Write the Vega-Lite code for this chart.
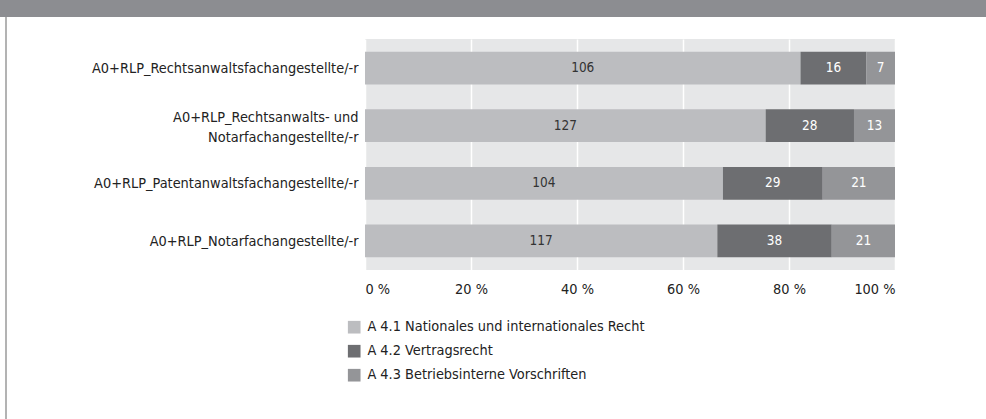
{
  "$schema": "https://vega.github.io/schema/vega-lite/v6.json",
  "padding": 0,
  "background": "white",
  "spacing": 0,
  "bounds": "flush",
  "config": {
    "view": {"stroke": null},
    "font": "Liberation Sans Narrow, DejaVu Sans Condensed, sans-serif"
  },
  "datasets": {
    "bars": [
      {"cat": "A0+RLP_Rechtsanwaltsfachangestellte/-r", "series": "A 4.1 Nationales und internationales Recht", "order": 1, "value": 106},
      {"cat": "A0+RLP_Rechtsanwaltsfachangestellte/-r", "series": "A 4.2 Vertragsrecht", "order": 2, "value": 16},
      {"cat": "A0+RLP_Rechtsanwaltsfachangestellte/-r", "series": "A 4.3 Betriebsinterne Vorschriften", "order": 3, "value": 7},
      {"cat": "A0+RLP_Rechtsanwalts- und Notarfachangestellte/-r", "series": "A 4.1 Nationales und internationales Recht", "order": 1, "value": 127},
      {"cat": "A0+RLP_Rechtsanwalts- und Notarfachangestellte/-r", "series": "A 4.2 Vertragsrecht", "order": 2, "value": 28},
      {"cat": "A0+RLP_Rechtsanwalts- und Notarfachangestellte/-r", "series": "A 4.3 Betriebsinterne Vorschriften", "order": 3, "value": 13},
      {"cat": "A0+RLP_Patentanwaltsfachangestellte/-r", "series": "A 4.1 Nationales und internationales Recht", "order": 1, "value": 104},
      {"cat": "A0+RLP_Patentanwaltsfachangestellte/-r", "series": "A 4.2 Vertragsrecht", "order": 2, "value": 29},
      {"cat": "A0+RLP_Patentanwaltsfachangestellte/-r", "series": "A 4.3 Betriebsinterne Vorschriften", "order": 3, "value": 21},
      {"cat": "A0+RLP_Notarfachangestellte/-r", "series": "A 4.1 Nationales und internationales Recht", "order": 1, "value": 117},
      {"cat": "A0+RLP_Notarfachangestellte/-r", "series": "A 4.2 Vertragsrecht", "order": 2, "value": 38},
      {"cat": "A0+RLP_Notarfachangestellte/-r", "series": "A 4.3 Betriebsinterne Vorschriften", "order": 3, "value": 21}
    ],
    "blank": [{}]
  },
  "vconcat": [
    {
      "width": 986,
      "height": 17,
      "view": {"fill": "#8c8d91", "stroke": null},
      "data": {"name": "blank"},
      "mark": {"type": "text"},
      "encoding": {"text": {"value": ""}}
    },
    {
      "bounds": "flush",
      "spacing": 365,
      "hconcat": [
        {
          "bounds": "flush",
          "spacing": 0,
          "hconcat": [
            {
              "width": 5,
              "height": 1,
              "view": {"stroke": null},
              "data": {"name": "blank"},
              "mark": {"type": "text"},
              "encoding": {"text": {"value": ""}}
            },
            {
              "width": 2,
              "height": 402,
              "view": {"fill": "#b3b3b3", "stroke": null},
              "data": {"name": "blank"},
              "mark": {"type": "text"},
              "encoding": {"text": {"value": ""}}
            }
          ]
        },
        {
          "bounds": "flush",
          "spacing": 21,
          "vconcat": [
            {
              "width": 1,
              "height": 1,
              "view": {"stroke": null},
              "data": {"name": "blank"},
              "mark": {"type": "text"},
              "encoding": {"text": {"value": ""}}
            },
            {
              "width": 530,
              "height": 231,
              "view": {"fill": "#e6e7e8", "stroke": null},
              "data": {"name": "bars"},
              "transform": [
                {"stack": "value", "groupby": ["cat"], "sort": [{"field": "order"}], "offset": "normalize", "as": ["x0", "x1"]},
                {"calculate": "(datum.x0 + datum.x1) / 2", "as": "xm"}
              ],
              "encoding": {
                "y": {
                  "field": "cat",
                  "type": "nominal",
                  "sort": null,
                  "scale": {"paddingInner": 0.43, "paddingOuter": 0.22},
                  "axis": {
                    "title": null,
                    "domain": false,
                    "ticks": false,
                    "labelPadding": 7,
                    "labelFontSize": 14.4,
                    "labelColor": "#222222",
                    "labelLimit": 400,
                    "labelLineHeight": 20,
                    "labelOffset": {
                      "condition": {"test": "datum.value == 'A0+RLP_Rechtsanwalts- und Notarfachangestellte/-r'", "value": -8},
                      "value": 1
                    },
                    "labelExpr": "datum.label == 'A0+RLP_Rechtsanwalts- und Notarfachangestellte/-r' ? ['A0+RLP_Rechtsanwalts- und', 'Notarfachangestellte/-r'] : datum.label"
                  }
                }
              },
              "layer": [
                {
                  "mark": {"type": "bar"},
                  "encoding": {
                    "x": {
                      "field": "x0",
                      "type": "quantitative",
                      "scale": {"domain": [0, 1], "nice": false},
                      "axis": {
                        "title": null,
                        "domain": false,
                        "ticks": false,
                        "values": [0, 0.2, 0.4, 0.6, 0.8, 1],
                        "labelExpr": "round(datum.value * 100) + ' %'",
                        "labelFontSize": 14.4,
                        "labelColor": "#222222",
                        "labelPadding": 12,
                        "grid": true,
                        "gridColor": "#ffffff",
                        "gridWidth": 1.5,
                        "gridOpacity": 1
                      }
                    },
                    "x2": {"field": "x1"},
                    "color": {
                      "field": "series",
                      "type": "nominal",
                      "sort": null,
                      "scale": {
                        "domain": ["A 4.1 Nationales und internationales Recht", "A 4.2 Vertragsrecht", "A 4.3 Betriebsinterne Vorschriften"],
                        "range": ["#bcbdc0", "#6d6e71", "#949598"]
                      },
                      "legend": {
                        "title": null,
                        "orient": "none",
                        "legendX": 347,
                        "legendY": 320,
                        "direction": "vertical",
                        "symbolType": "square",
                        "symbolSize": 160,
                        "symbolStrokeWidth": 0,
                        "symbolOpacity": 1,
                        "labelFontSize": 14.4,
                        "labelColor": "#222222",
                        "labelOffset": 6,
                        "labelLimit": 500,
                        "rowPadding": 9
                      }
                    }
                  }
                },
                {
                  "mark": {"type": "text", "fontSize": 13.5, "baseline": "middle", "align": "center"},
                  "encoding": {
                    "x": {"field": "xm", "type": "quantitative"},
                    "text": {"field": "value", "type": "quantitative"},
                    "color": {
                      "condition": {"test": "datum.order == 1", "value": "#333333"},
                      "value": "#ffffff"
                    }
                  }
                }
              ]
            }
          ]
        }
      ]
    }
  ]
}
